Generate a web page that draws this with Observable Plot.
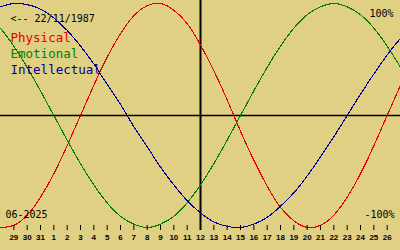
<!DOCTYPE html>
<html>
<head>
<meta charset="utf-8">
<script src="https://cdn.jsdelivr.net/npm/d3@7"></script>
<script src="https://cdn.jsdelivr.net/npm/@observablehq/plot@0.6"></script>
<style>
  html, body { margin: 0; padding: 0; background: #E0D084; }
  #chart svg { display: block; }
</style>
</head>
<body>
<div id="chart"></div>
<script>
// Day-of-month labels, 28 May 2025 .. 27 June 2025 (first and last are edge points without ticks)
const days = [28,29,30,31,1,2,3,4,5,6,7,8,9,10,11,12,13,14,15,16,17,18,19,20,21,22,23,24,25,26,27];
// Biorhythm values (-1 .. 1)
const physical = [-1.00,-0.98,-0.89,-0.73,-0.52,-0.27,0,0.27,0.52,0.73,0.89,0.98,1.00,0.94,0.82,0.63,0.40,0.14,-0.14,-0.40,-0.63,-0.82,-0.94,-1.00,-0.98,-0.89,-0.73,-0.52,-0.27,0,0.27];
const emotional = [0.78,0.62,0.43,0.22,0,-0.22,-0.43,-0.62,-0.78,-0.90,-0.97,-1.00,-0.97,-0.90,-0.78,-0.62,-0.43,-0.22,0,0.22,0.43,0.62,0.78,0.90,0.97,1.00,0.97,0.90,0.78,0.62,0.43];
const intellectual = [0.97,1.00,0.99,0.95,0.87,0.76,0.62,0.46,0.28,0.10,-0.10,-0.28,-0.46,-0.62,-0.76,-0.87,-0.95,-0.99,-1.00,-0.97,-0.91,-0.81,-0.69,-0.54,-0.37,-0.19,0,0.19,0.37,0.54,0.69];
const seriesNames = ["Physical","Emotional","Intellectual"];
const seriesColors = ["#E00000","#008000","#000098"];
const todayIndex = 15; // 12 June
const birthLabel = "<-- 22/11/1987";
const monthLabel = "06-2025";
const topLabel = "100%";
const bottomLabel = "-100%";

const seriesValues = [physical, emotional, intellectual];
const rows = [];
seriesNames.forEach((name, s) => {
  seriesValues[s].forEach((v, i) => rows.push({series: name, i, v}));
});
const tickIdx = days.map((d, i) => i).slice(1, days.length - 1);

const mono = "'DejaVu Sans Mono', monospace";
const legendMarks = seriesNames.map((name, s) =>
  Plot.text([name], {frameAnchor: "top-left", textAnchor: "start", lineAnchor: "bottom", dx: 10,
    dy: 38 + 16 * s, fill: seriesColors[s], fontFamily: mono, fontSize: 12.5}));

const chart = Plot.plot({
  width: 400,
  height: 250,
  marginTop: 3,
  marginBottom: 23,
  marginLeft: 0,
  marginRight: 0,
  style: {background: "#E0D084", overflow: "visible"},
  x: {domain: [0, days.length - 1], axis: null, label: null},
  y: {domain: [-1, 1], axis: null, label: null},
  color: {domain: seriesNames, range: seriesColors},
  marks: [
    Plot.ruleY([0], {stroke: "black", strokeWidth: 1.5}),
    Plot.ruleX([todayIndex], {stroke: "black", strokeWidth: 2, insetTop: -3, insetBottom: -3}),
    Plot.line(rows, {x: "i", y: "v", z: "series", stroke: "series", strokeWidth: 1.1, curve: "natural", shapeRendering: "crispEdges"}),
    Plot.axisX({ticks: tickIdx, tickFormat: i => String(days[i]), tickSize: 5, dy: -2, tickPadding: 4, label: null,
      stroke: "black", fill: "black", fontSize: 8, fontWeight: "bold", fontFamily: "'Liberation Sans', Arial, sans-serif"}),
    Plot.text([birthLabel], {frameAnchor: "top-left", textAnchor: "start", lineAnchor: "bottom", dx: 10, dy: 18,
      fontFamily: mono, fontSize: 10, fill: "black"}),
    ...legendMarks,
    Plot.text([topLabel], {frameAnchor: "top-right", textAnchor: "end", lineAnchor: "bottom", dx: -7, dy: 13,
      fontFamily: mono, fontSize: 10, fill: "black"}),
    Plot.text([bottomLabel], {frameAnchor: "bottom-right", textAnchor: "end", lineAnchor: "bottom", dx: -6, dy: -10,
      fontFamily: mono, fontSize: 10, fill: "black"}),
    Plot.text([monthLabel], {frameAnchor: "bottom-left", textAnchor: "start", lineAnchor: "bottom", dx: 5, dy: -10,
      fontFamily: mono, fontSize: 10, fill: "black"})
  ]
});
document.getElementById("chart").appendChild(chart);
</script>
</body>
</html>
